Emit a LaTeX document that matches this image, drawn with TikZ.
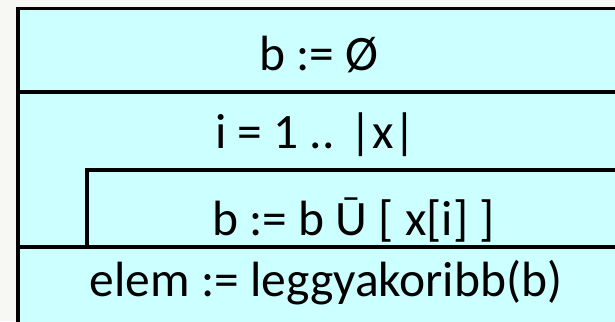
\documentclass[tikz,border=0pt]{standalone}
\usepackage{fontspec}
\setmainfont{Carlito}
\usetikzlibrary{positioning}
\definecolor{cellfill}{HTML}{CCFFFF}
\definecolor{pagebg}{HTML}{F7F8F3}

\begin{document}
\begin{tikzpicture}[
    x=1pt, y=-1pt,
    node distance=0pt,
    cell/.style={rectangle, draw=black, line width=3.4pt, fill=cellfill, outer sep=0pt, inner sep=0pt, minimum width=602pt},
    stmt/.style={font=\fontsize{49.5}{58}\selectfont, anchor=base, inner sep=0pt}
]
\fill[pagebg] (0,0) rectangle (615,321);
\useasboundingbox (0,0) rectangle (615,321);
\clip (0,0) rectangle (615,321);

\node[cell, minimum height=83.5pt, anchor=north west] (init) at (18,8.5) {};
\node[cell, minimum height=155pt, below=of init] (loop) {};
\node[cell, minimum width=533pt, minimum height=77pt, anchor=south east] (body) at (loop.south east) {};
\node[cell, minimum height=83pt, below=of loop] (result) {};

% statements
\node[stmt] (tinit) at ([yshift=-62pt]init.north) {b := Ø};
\node[stmt] (tloop) at ([xshift=-3pt,yshift=-56pt]loop.north) {i = 1 .. |x|};
\node[stmt] (tbody) at ([yshift=-65pt]body.north) {b := b Ū [ x[i] ]};
\node[stmt] (tresult) at ([xshift=7pt,yshift=-49pt]result.north) {elem := leggyakoribb(b)};
\end{tikzpicture}
\end{document}
